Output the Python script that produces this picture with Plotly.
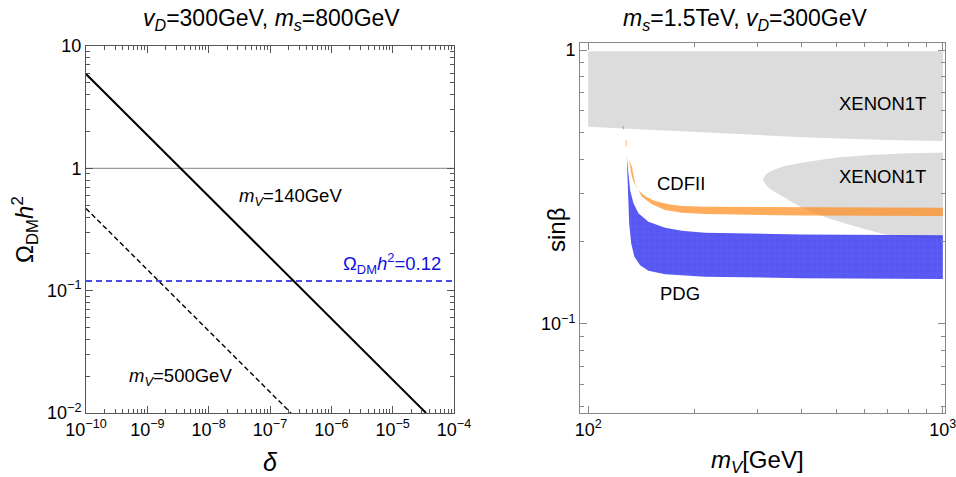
import plotly.graph_objects as go

# ---------------- Left panel data ----------------
delta_140 = [1e-10, 1e-9, 1e-8, 1e-7, 1e-6, 1e-5, 3.5e-5]
omega_140 = [5.9, 1.87, 0.59, 0.187, 0.059, 0.0187, 0.0100]
delta_500 = [1e-10, 1e-9, 1e-8, 1e-7, 2.2e-7]
omega_500 = [0.47, 0.149, 0.047, 0.0149, 0.0100]
omega_one = 1.0
omega_obs = 0.12
delta_span = [1e-10, 1e-4]

left_xticks = [1e-10, 1e-9, 1e-8, 1e-7, 1e-6, 1e-5, 1e-4]
left_xtext = ["10<sup>−10</sup>", "10<sup>−9</sup>", "10<sup>−8</sup>", "10<sup>−7</sup>",
              "10<sup>−6</sup>", "10<sup>−5</sup>", "10<sup>−4</sup>"]
left_yticks = [0.01, 0.1, 1, 10]
left_ytext = ["10<sup>−2</sup>", "10<sup>−1</sup>", "1", "10"]

# ---------------- Right panel data ----------------
xenon_up_m = [100, 1000, 1000, 700, 400, 200, 100]
xenon_up_s = [0.99, 0.99, 0.466, 0.470, 0.481, 0.502, 0.525]

xenon_lo_upper_m = [1000, 695, 513, 414, 348, 320, 311]
xenon_lo_upper_s = [0.423, 0.417, 0.406, 0.390, 0.373, 0.355, 0.338]
xenon_lo_lower_m = [311, 320, 348, 414, 513, 695, 800, 1000]
xenon_lo_lower_s = [0.338, 0.318, 0.296, 0.261, 0.236, 0.212, 0.207, 0.205]

cdf_top_m = [130.7, 132.2, 134.2, 138.6, 144.7, 154.4, 168.4, 183.6, 213.6, 400, 1000]
cdf_top_s = [0.394, 0.355, 0.331, 0.308, 0.293, 0.281, 0.2735, 0.2695, 0.268, 0.267, 0.266]
cdf_bot_m = [131.0, 132.8, 135.6, 141.7, 151.2, 164.8, 183.6, 213.6, 400, 1000]
cdf_bot_s = [0.394, 0.375, 0.326, 0.2914, 0.2735, 0.2607, 0.2548, 0.252, 0.249, 0.248]

pdg_top_m = [128.5, 129.9, 131.3, 134.2, 138.6, 147.9, 164.8, 183.6, 213.6, 400, 1000]
pdg_top_s = [0.408, 0.355, 0.308, 0.276, 0.2535, 0.236, 0.2246, 0.219, 0.2155, 0.212, 0.211]
pdg_bot_m = [128.5, 129.4, 130.5, 132.2, 135.0, 140.1, 147.9, 164.8, 183.6, 213.6, 400, 1000]
pdg_bot_s = [0.408, 0.308, 0.2332, 0.197, 0.176, 0.164, 0.1565, 0.1518, 0.150, 0.1488, 0.147, 0.146]

pdg_sliver_m = [125.3, 125.8]
pdg_sliver_s = [0.528, 0.514]
cdf_sliver_m = [128.0, 128.0]
cdf_sliver_s = [0.470, 0.446]

right_xticks = [100, 1000]
right_xtext = ["10<sup>2</sup>", "10<sup>3</sup>"]
right_yticks = [0.1, 1]
right_ytext = ["10<sup>−1</sup>", "1"]

FONT = "Liberation Sans, Arial, sans-serif"
W, H = 956, 477

fig = go.Figure()

# Left traces
fig.add_trace(go.Scatter(x=delta_span, y=[omega_one, omega_one], mode="lines",
                         line=dict(color="#9a9a9a", width=1.2), xaxis="x", yaxis="y", showlegend=False))
fig.add_trace(go.Scatter(x=delta_span, y=[omega_obs, omega_obs], mode="lines",
                         line=dict(color="#1010e0", width=1.6, dash="6px,4px"), xaxis="x", yaxis="y", showlegend=False))
fig.add_trace(go.Scatter(x=delta_140, y=omega_140, mode="lines",
                         line=dict(color="black", width=2), xaxis="x", yaxis="y", showlegend=False))
fig.add_trace(go.Scatter(x=delta_500, y=omega_500, mode="lines",
                         line=dict(color="black", width=1.4, dash="5px,3px"), xaxis="x", yaxis="y", showlegend=False))

# Right traces
fig.add_trace(go.Scatter(x=xenon_up_m, y=xenon_up_s, mode="lines", fill="toself",
                         fillcolor="#dcdcdc", line=dict(width=0, color="#dcdcdc"),
                         xaxis="x2", yaxis="y2", showlegend=False))
fig.add_trace(go.Scatter(x=xenon_lo_upper_m + xenon_lo_lower_m, y=xenon_lo_upper_s + xenon_lo_lower_s,
                         mode="lines", fill="toself", fillcolor="#dcdcdc", line=dict(width=0, color="#dcdcdc"),
                         line_shape="spline", xaxis="x2", yaxis="y2", showlegend=False))
fig.add_trace(go.Scatter(x=cdf_top_m + cdf_bot_m[::-1], y=cdf_top_s + cdf_bot_s[::-1],
                         mode="lines", fill="toself", fillcolor="rgba(255,140,30,0.72)",
                         line=dict(width=0, color="rgba(0,0,0,0)"),
                         xaxis="x2", yaxis="y2", showlegend=False))
fig.add_trace(go.Scatter(x=pdg_top_m + pdg_bot_m[::-1], y=pdg_top_s + pdg_bot_s[::-1],
                         mode="lines", fill="toself", fillcolor="rgba(40,40,240,0.78)",
                         fillpattern=dict(shape="+", size=6, solidity=0.12,
                                          fgcolor="rgba(150,150,255,0.55)", bgcolor="rgba(40,40,240,0.78)"),
                         line=dict(width=0, color="rgba(0,0,0,0)"),
                         xaxis="x2", yaxis="y2", showlegend=False))
fig.add_trace(go.Scatter(x=pdg_sliver_m, y=pdg_sliver_s, mode="lines",
                         line=dict(color="rgba(90,90,240,0.6)", width=1), xaxis="x2", yaxis="y2", showlegend=False))
fig.add_trace(go.Scatter(x=cdf_sliver_m, y=cdf_sliver_s, mode="lines",
                         line=dict(color="rgba(255,150,50,0.7)", width=1), xaxis="x2", yaxis="y2", showlegend=False))


def minor_vals(lo, hi):
    vals = []
    for e in range(lo, hi):
        for k in range(2, 10):
            vals.append(k * 10 ** e)
    return vals


def axis(dom, rng, tv, tt, minors, anchor, color):
    return dict(type="log", domain=dom, range=rng, anchor=anchor, automargin=False,
                tickmode="array", tickvals=tv, ticktext=tt, ticklabeloverflow="allow",
                ticks="inside", ticklen=7, tickwidth=1, tickcolor=color,
                showline=True, linecolor=color, linewidth=1, mirror="allticks",
                showgrid=False, zeroline=False,
                tickfont=dict(family=FONT, size=18, color="black"),
                minor=dict(tickmode="array", tickvals=minors, ticks="inside", ticklen=4,
                           tickcolor=color, showgrid=False))


lx0, lx1, ly0, ly1 = 86, 454, 46, 413
rx0, rx1, ry0, ry1 = 580, 945, 43, 413

fig.update_layout(
    width=W, height=H, margin=dict(l=0, r=0, t=0, b=0, pad=0, autoexpand=False),
    paper_bgcolor="white", plot_bgcolor="white",
    xaxis=axis([lx0 / W, lx1 / W], [-10, -4], left_xticks, left_xtext,
               minor_vals(-10, -4), "y", "#555555"),
    yaxis=axis([1 - ly1 / H, 1 - ly0 / H], [-2, 1], left_yticks, left_ytext,
               minor_vals(-2, 1), "x", "#555555"),
    xaxis2=axis([rx0 / W, rx1 / W], [1.977, 3.006], right_xticks, right_xtext,
                minor_vals(2, 3), "y2", "#888888"),
    yaxis2=axis([1 - ry1 / H, 1 - ry0 / H], [-1.325, 0.026], right_yticks, right_ytext,
                [0.05, 0.06, 0.07, 0.08, 0.09, 0.2, 0.3, 0.4, 0.5, 0.6, 0.7, 0.8, 0.9], "x2", "#888888"),
)


def ann(text, x, y, size, color="black", angle=0, xanchor="center"):
    fig.add_annotation(text=text, x=x / W, y=1 - y / H, xref="paper", yref="paper",
                       showarrow=False, textangle=angle, xanchor=xanchor, yanchor="middle",
                       font=dict(family=FONT, size=size, color=color))


ann("<i>v<sub>D</sub></i>=300GeV, <i>m<sub>s</sub></i>=800GeV", 271, 20, 23)
ann("<i>m<sub>s</sub></i>=1.5TeV, <i>v<sub>D</sub></i>=300GeV", 745, 19, 23)
ann("<i>δ</i>", 270, 462, 25)
ann("<i>m<sub>V</sub></i>[GeV]", 757, 461, 24)
ann("Ω<sub>DM</sub><i>h</i><sup>2</sup>", 25, 230, 24, angle=-90)
ann("sinβ", 557, 230, 24, angle=-90)

ann("<i>m<sub>V</sub></i>=140GeV", 237, 197, 18.5, xanchor="left")
ann("<i>m<sub>V</sub></i>=500GeV", 127, 377, 18.5, xanchor="left")
ann("Ω<sub>DM</sub><i>h</i><sup>2</sup>=0.12", 443, 263, 18.5, color="#1010e0", xanchor="right")

ann("XENON1T", 928, 103, 18.5, xanchor="right")
ann("XENON1T", 928, 177, 18.5, xanchor="right")
ann("CDFII", 655, 183, 18.5, xanchor="left")
ann("PDG", 658, 293, 18.5, xanchor="left")

fig.write_html("out.html", config={"displayModeBar": False},
               post_script="document.body.style.margin='0px';document.body.style.overflow='hidden';")
